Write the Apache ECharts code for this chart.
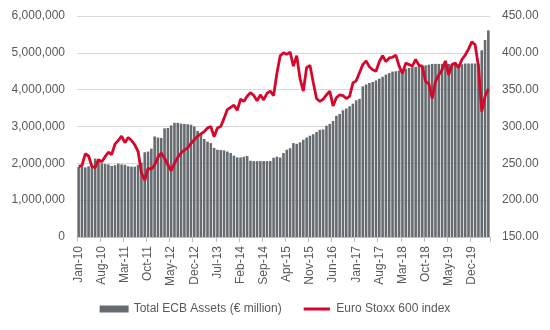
<!DOCTYPE html>
<html>
<head>
<meta charset="utf-8">
<script src="https://cdn.jsdelivr.net/npm/echarts@6/dist/echarts.min.js"></script>
<style>
html,body{margin:0;padding:0;background:#fff;}
#chart{width:550px;height:330px;}
</style>
</head>
<body>
<div id="chart"></div>
<script>
const categories = [
'Jan-10','Feb-10','Mar-10','Apr-10','May-10','Jun-10','Jul-10','Aug-10','Sep-10','Oct-10','Nov-10','Dec-10',
'Jan-11','Feb-11','Mar-11','Apr-11','May-11','Jun-11','Jul-11','Aug-11','Sep-11','Oct-11','Nov-11','Dec-11',
'Jan-12','Feb-12','Mar-12','Apr-12','May-12','Jun-12','Jul-12','Aug-12','Sep-12','Oct-12','Nov-12','Dec-12',
'Jan-13','Feb-13','Mar-13','Apr-13','May-13','Jun-13','Jul-13','Aug-13','Sep-13','Oct-13','Nov-13','Dec-13',
'Jan-14','Feb-14','Mar-14','Apr-14','May-14','Jun-14','Jul-14','Aug-14','Sep-14','Oct-14','Nov-14','Dec-14',
'Jan-15','Feb-15','Mar-15','Apr-15','May-15','Jun-15','Jul-15','Aug-15','Sep-15','Oct-15','Nov-15','Dec-15',
'Jan-16','Feb-16','Mar-16','Apr-16','May-16','Jun-16','Jul-16','Aug-16','Sep-16','Oct-16','Nov-16','Dec-16',
'Jan-17','Feb-17','Mar-17','Apr-17','May-17','Jun-17','Jul-17','Aug-17','Sep-17','Oct-17','Nov-17','Dec-17',
'Jan-18','Feb-18','Mar-18','Apr-18','May-18','Jun-18','Jul-18','Aug-18','Sep-18','Oct-18','Nov-18','Dec-18',
'Jan-19','Feb-19','Mar-19','Apr-19','May-19','Jun-19','Jul-19','Aug-19','Sep-19','Oct-19','Nov-19','Dec-19',
'Jan-20','Feb-20','Mar-20','Apr-20','May-20'
];

// Total ECB Assets (€ million)
const ecbAssets = [
1900000,1900000,1890000,1920000,1950000,2130000,2120000,2000000,1980000,1970000,1930000,1950000,
1990000,1970000,1960000,1920000,1910000,1910000,1960000,2020000,2300000,2320000,2400000,2730000,
2700000,2690000,2950000,2960000,3030000,3100000,3100000,3080000,3070000,3060000,3050000,3000000,
2880000,2780000,2660000,2590000,2550000,2420000,2370000,2360000,2350000,2320000,2280000,2210000,
2160000,2160000,2180000,2200000,2070000,2060000,2060000,2060000,2060000,2060000,2060000,2150000,
2180000,2160000,2280000,2370000,2410000,2550000,2530000,2570000,2640000,2700000,2750000,2790000,
2850000,2910000,2920000,3020000,3070000,3150000,3290000,3340000,3440000,3490000,3550000,3620000,
3710000,3750000,4090000,4140000,4180000,4210000,4250000,4300000,4350000,4410000,4450000,4490000,
4500000,4520000,4550000,4570000,4590000,4610000,4620000,4640000,4640000,4660000,4680000,4700000,
4700000,4700000,4700000,4700000,4700000,4690000,4690000,4690000,4690000,4710000,4710000,4710000,
4710000,4700000,5070000,5350000,5610000
];

// Euro Stoxx 600 index
const stoxx600 = [
246,247,263,260,246,244,255,252,259,265,262,276,
281,287,278,285,281,275,266,237,227,243,242,248,
258,264,257,248,240,250,258,264,268,271,277,282,
287,290,293,298,300,286,298,300,311,323,326,329,
322,337,334,341,346,342,335,343,336,345,348,342,
372,396,400,398,401,382,396,365,348,380,383,360,
338,334,337,343,348,328,339,343,342,338,341,359,
362,373,384,389,381,377,375,388,396,388,393,394,
397,382,372,386,384,382,391,383,382,361,358,338,
361,370,377,389,370,384,386,380,391,397,405,415,
411,382,320,341,351
];

const leftTicks = [0, 6000000, 1000000];   // min, max, interval
const rightTicks = [150, 450, 50];

const seriesNames = ['Total ECB Assets (€ million)', 'Euro Stoxx 600 index'];

const chart = echarts.init(document.getElementById('chart'), null, {renderer: 'canvas'});
const txt = '#595959';
const font = 'Liberation Sans, Arial, sans-serif';
const red = '#d7072b';

chart.setOption({
  animation: false,
  textStyle: {fontFamily: font},
  grid: {left: 77, right: 60, top: 16, bottom: 93, containLabel: false},
  legend: {
    bottom: 10,
    left: 'center',
    itemWidth: 29,
    itemHeight: 7,
    itemGap: 22,
    textStyle: {color: txt, fontSize: 12, fontFamily: font},
    data: [
      {name: seriesNames[0], icon: 'rect'},
      {name: seriesNames[1], icon: 'path://M0,0L0.01,0L0.01,0.01Z M0,2.4H30V5.6H0Z M0,8L0.01,8L0.01,7.99Z',
       itemStyle: {color: red, borderWidth: 0}}
    ]
  },
  xAxis: {
    type: 'category',
    data: categories,
    boundaryGap: true,
    axisLine: {show: true, lineStyle: {color: '#bfbfbf', width: 1}},
    axisTick: {show: true, interval: 6, length: 5, lineStyle: {color: '#bfbfbf'}},
    axisLabel: {interval: 6, rotate: 90, color: txt, fontSize: 12, margin: 9, fontFamily: font},
    splitLine: {show: false}
  },
  yAxis: [
    {
      type: 'value',
      min: leftTicks[0], max: leftTicks[1], interval: leftTicks[2],
      axisLine: {show: false},
      axisTick: {show: false},
      axisLabel: {
        color: txt, fontSize: 12, margin: 12, fontFamily: font,
        formatter: v => v.toLocaleString('en-US')
      },
      splitLine: {show: true, lineStyle: {color: '#d9d9d9', width: 1}}
    },
    {
      type: 'value',
      min: rightTicks[0], max: rightTicks[1], interval: rightTicks[2],
      axisLine: {show: false},
      axisTick: {show: false},
      axisLabel: {
        color: txt, fontSize: 12, margin: 12, fontFamily: font,
        formatter: v => v.toFixed(2)
      },
      splitLine: {show: false}
    }
  ],
  series: [
    {
      name: seriesNames[0],
      type: 'bar',
      yAxisIndex: 0,
      data: ecbAssets,
      barCategoryGap: '22%',
      itemStyle: {color: '#666b70'}
    },
    {
      name: seriesNames[1],
      type: 'line',
      yAxisIndex: 1,
      data: stoxx600,
      symbol: 'none',
      smooth: false,
      lineStyle: {color: red, width: 2.8},
      itemStyle: {color: red}
    }
  ]
});
</script>
</body>
</html>
